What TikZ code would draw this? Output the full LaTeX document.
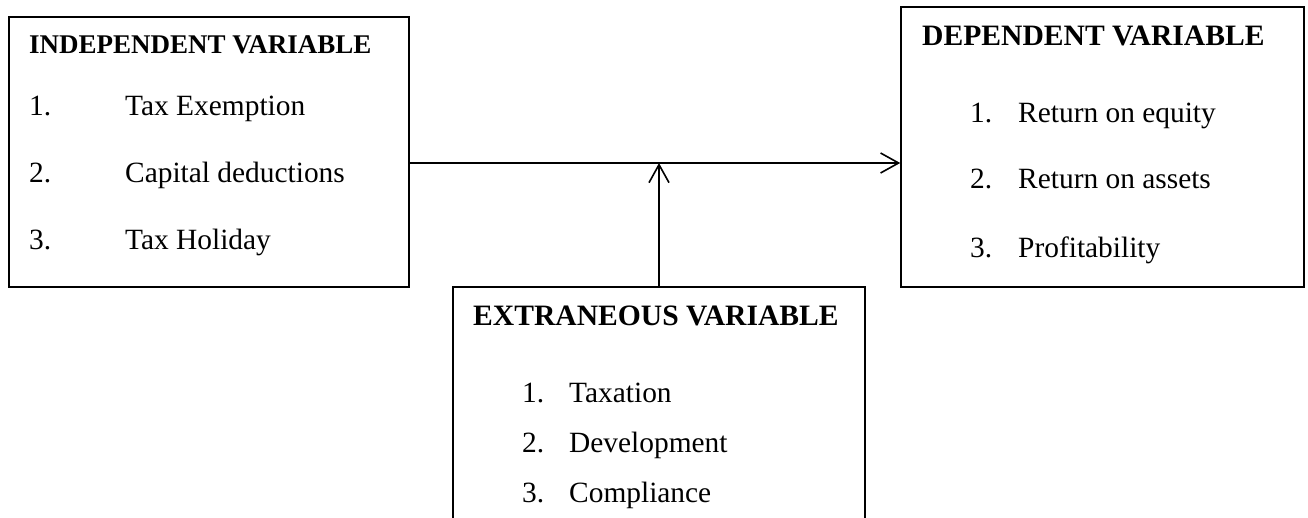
\documentclass[tikz,border=0pt]{standalone}
\usepackage{fontspec}
\setmainfont{Liberation Serif}
\usetikzlibrary{arrows.meta}
\begin{document}
\begin{tikzpicture}[x=1pt,y=-1pt,
  box/.style={draw=black,line width=1.6pt,rectangle,inner sep=0pt},
  txt/.style={anchor=base west,inner sep=0pt,font=\fontsize{29.4}{34}\selectfont},
  head/.style={txt,font=\fontsize{29.6}{34}\selectfont\bfseries},
  smallhead/.style={txt,font=\fontsize{27}{32}\selectfont\bfseries},
  conn/.style={line width=1.6pt,-{Straight Barb[length=18pt,width=20pt,line width=1.6pt]}}]
\clip (0,0) rectangle (1308,517);
\fill[white] (0,0) rectangle (1308,517);
% boxes
\node[box,minimum width=400pt,minimum height=270pt] (ind) at (209,152) {};
\node[box,minimum width=403pt,minimum height=280pt] (dep) at (1102.5,147) {};
\node[box,minimum width=412pt,minimum height=280pt] (ext) at (659,427) {};
% independent
\node[smallhead] (t1) at (29,53) {INDEPENDENT VARIABLE};
\node[txt] (a1) at (29,115) {1.};
\node[txt] (a1t) at (125,115) {Tax Exemption};
\node[txt] (a2) at (29,182) {2.};
\node[txt] (a2t) at (125,182) {Capital deductions};
\node[txt] (a3) at (29,249) {3.};
\node[txt] (a3t) at (125,249) {Tax Holiday};
% dependent
\node[head] (t2) at (922,45) {DEPENDENT VARIABLE};
\node[txt] (b1) at (970,122) {1.};
\node[txt] (b1t) at (1018,122) {Return on equity};
\node[txt] (b2) at (970,188) {2.};
\node[txt] (b2t) at (1018,188) {Return on assets};
\node[txt] (b3) at (970,257) {3.};
\node[txt] (b3t) at (1018,257) {Profitability};
% extraneous
\node[head] (t3) at (473,325) {EXTRANEOUS VARIABLE};
\node[txt] (c1) at (522,402) {1.};
\node[txt] (c1t) at (569,402) {Taxation};
\node[txt] (c2) at (522,452) {2.};
\node[txt] (c2t) at (569,452) {Development};
\node[txt] (c3) at (522,502) {3.};
\node[txt] (c3t) at (569,502) {Compliance};
% connectors
\coordinate (j) at (658,163);
\draw[conn] (ind.east |- j) -- (dep.west |- j);
\draw[conn] (ext.north) -- (ext.north |- j);
\end{tikzpicture}
\end{document}
